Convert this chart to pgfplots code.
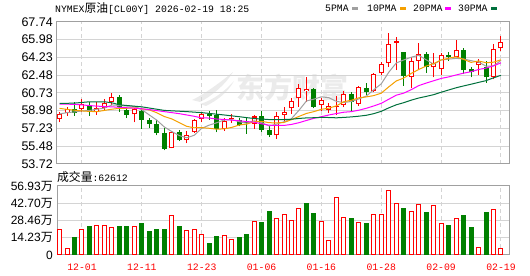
\documentclass[border=0pt]{standalone}
\usepackage{pgfplots}
\pgfplotsset{compat=1.18}
\usepackage{pgfplotstable}
\usepackage{fontspec}
\setmainfont{Liberation Sans}
\newfontfamily\cjk{Noto Sans CJK SC}
\newfontfamily\mono{Liberation Mono}
\definecolor{cRed}{HTML}{FF0000}
\definecolor{cGreen}{HTML}{008000}
\definecolor{ma5}{HTML}{A0A0A0}
\definecolor{ma10}{HTML}{F5A000}
\definecolor{ma20}{HTML}{FF00FF}
\definecolor{ma30}{HTML}{00703C}
\definecolor{gridc}{HTML}{D4D4D4}
\definecolor{framec}{HTML}{A0A0A0}

\pgfplotstableread{
i O H L C
0 58.20 58.88 57.81 58.62
1 58.79 59.37 58.46 59.14
3 59.14 60.11 58.88 59.60
5 58.88 59.86 58.56 59.27
6 59.27 60.11 58.95 59.69
7 59.79 60.67 59.53 60.28
10 58.62 59.21 57.81 59.11
15 55.29 57.00 55.25 56.84
17 56.06 56.94 55.74 56.61
18 56.84 58.14 56.78 58.01
19 58.14 58.88 57.81 58.62
22 57.20 58.23 57.00 57.98
23 58.14 58.62 57.75 58.23
26 57.68 58.56 57.20 58.40
29 56.55 58.88 56.19 58.46
30 58.56 59.37 57.91 58.88
31 59.21 60.24 58.66 59.95
32 60.18 61.64 59.37 61.22
33 60.92 62.29 59.86 61.15
35 59.53 60.24 58.95 60.02
36 59.05 59.76 58.72 59.48
37 59.30 60.42 58.55 59.43
38 59.53 60.91 59.30 60.62
40 59.63 61.40 59.47 61.27
42 60.95 62.72 60.85 62.59
43 62.65 63.80 62.49 63.54
44 63.64 66.59 63.30 65.54
45 65.67 66.20 62.98 65.81
47 62.32 64.29 61.18 63.90
48 63.90 65.67 62.98 64.53
50 63.24 64.62 62.26 63.64
51 63.05 64.69 62.49 64.46
53 64.30 65.94 64.23 64.95
56 63.47 64.03 62.49 63.80
58 62.26 65.54 62.06 65.02
59 65.12 66.33 64.89 65.77
}\upc

\pgfplotstableread{
i O H L C
2 59.14 59.79 58.46 58.72
4 59.53 59.79 58.49 58.88
8 60.31 60.50 58.88 59.34
9 59.01 59.21 58.23 58.56
11 58.98 59.27 57.20 58.07
12 58.07 58.30 57.26 57.68
13 57.65 58.07 56.55 56.78
14 56.78 57.26 55.06 55.22
16 56.87 57.10 55.97 56.06
20 58.69 58.98 58.07 58.46
21 58.56 59.01 56.84 57.20
24 58.01 58.23 57.42 57.59
25 57.98 58.30 56.68 57.72
27 58.46 58.98 56.87 57.10
28 57.10 57.42 56.36 56.55
34 61.15 61.22 59.21 59.37
39 60.62 60.85 58.97 59.86
41 61.24 61.73 60.52 60.85
46 64.75 64.80 61.41 62.39
49 64.56 64.79 62.72 63.31
52 64.46 64.79 63.90 64.30
54 64.95 65.12 62.59 62.98
55 63.05 63.24 62.26 62.82
57 63.31 63.90 61.73 62.26
}\dnc

\pgfplotsset{
  cbar/.style 2 args={forget plot, draw=none, mark=none,
    error bars/.cd, y dir=plus, y explicit, error mark=none,
    error bar style={draw=#1, line width=#2, line cap=butt, solid}},
}

\begin{document}
\begin{tikzpicture}
\path[use as bounding box] (0,0) rectangle (530bp,276bp);
% watermark
\fill[black!8] (192bp,176bp) .. controls (205bp,182bp) and (222bp,195bp) .. (233bp,204bp)
  .. controls (226bp,192bp) and (212bp,180bp) .. (200bp,174bp) -- cycle;
\fill[black!8] (200bp,172bp) .. controls (214bp,176bp) and (226bp,186bp) .. (234bp,195bp)
  .. controls (228bp,184bp) and (218bp,176bp) .. (206bp,170bp) -- cycle;
\node[text=black!8, font=\cjk\bfseries\fontsize{28bp}{30bp}\selectfont, inner sep=0pt] at (292bp,188bp) {东方财富};

\begin{axis}[
  at={(57bp,112bp)}, anchor=south west,
  width=452bp, height=142.3bp, scale only axis,
  xmin=-0.34, xmax=60.07, ymin=53.72, ymax=67.74,
  enlargelimits=false, clip=true,
  xtick={3,11,19,27,35,43,51,59}, xticklabels={},
  ytick={53.72,55.48,57.23,58.98,60.73,62.48,64.23,65.98,67.74},
  yticklabels={53.72,55.48,57.23,58.98,60.73,62.48,64.23,65.98,67.74},
  yticklabel style={font=\fontsize{12.5bp}{14bp}\selectfont, inner sep=0pt, xshift=-4bp},
  xmajorgrids, ymajorgrids,
  major x grid style={draw=gridc, dash pattern=on 4bp off 3bp, line width=1bp},
  major y grid style={draw=gridc, line width=1bp},
  axis line style={draw=framec, line width=1bp},
  major tick length=0pt,
]
% wicks
\addplot[cbar={cRed}{1bp}] table[x=i, y=L, y error plus expr={\thisrow{H}-\thisrow{L}}] {\upc};
\addplot[cbar={cGreen}{1bp}] table[x=i, y=L, y error plus expr={\thisrow{H}-\thisrow{L}}] {\dnc};
% bodies
\addplot[cbar={cRed}{5bp}] table[x=i, y=O, y error plus expr={max(\thisrow{C}-\thisrow{O},0.1)}] {\upc};
\addplot[cbar={white}{3bp}] table[x=i, y expr={\thisrow{O}+0.1}, y error plus expr={max(\thisrow{C}-\thisrow{O}-0.2,0)}] {\upc};
\addplot[cbar={cGreen}{5bp}] table[x=i, y=C, y error plus expr={max(\thisrow{O}-\thisrow{C},0.1)}] {\dnc};
% moving averages
\addplot[ma5, line width=1bp] coordinates {(0,58.65)(1,58.78)(2,58.85)(3,58.95)(4,58.99)(5,59.12)(6,59.23)(7,59.54)(8,59.49)(9,59.43)(10,59.40)(11,59.07)(12,58.55)(13,58.04)(14,57.37)(15,56.92)(16,56.52)(17,56.30)(18,56.55)(19,57.23)(20,57.55)(21,57.78)(22,58.05)(23,58.10)(24,57.89)(25,57.74)(26,57.98)(27,57.81)(28,57.47)(29,57.65)(30,57.88)(31,58.19)(32,59.01)(33,59.93)(34,60.11)(35,60.34)(36,60.25)(37,59.89)(38,59.78)(39,59.88)(40,60.13)(41,60.41)(42,61.04)(43,61.62)(44,62.76)(45,63.67)(46,63.97)(47,64.24)(48,64.43)(49,63.99)(50,63.55)(51,63.97)(52,64.05)(53,64.13)(54,64.07)(55,63.90)(56,63.77)(57,63.36)(58,63.38)(59,63.93)};
\addplot[ma10, line width=1bp] coordinates {(0,59.2)(1,59.1)(2,59.02)(3,58.95)(4,58.9)(5,58.88)(6,59.0)(7,59.12)(8,59.2)(9,59.21)(10,59.26)(11,59.15)(12,59.05)(13,58.77)(14,58.40)(15,58.16)(16,57.79)(17,57.43)(18,57.29)(19,57.30)(20,57.24)(21,57.15)(22,57.18)(23,57.32)(24,57.56)(25,57.65)(26,57.88)(27,57.93)(28,57.79)(29,57.77)(30,57.81)(31,58.09)(32,58.41)(33,58.70)(34,58.88)(35,59.11)(36,59.22)(37,59.45)(38,59.86)(39,60.00)(40,60.24)(41,60.33)(42,60.46)(43,60.70)(44,61.32)(45,61.90)(46,62.19)(47,62.64)(48,63.03)(49,63.37)(50,63.61)(51,63.97)(52,64.14)(53,64.28)(54,64.03)(55,63.73)(56,63.87)(57,63.70)(58,63.75)(59,63.99)};
\addplot[ma20, line width=1bp] coordinates {(0,59.62)(2,59.6)(5,59.42)(7,59.35)(10,59.22)(11,59.16)(12,59.08)(14,58.88)(16,58.68)(18,58.42)(19,58.26)(20,58.25)(21,58.15)(22,58.11)(23,58.04)(24,57.98)(25,57.90)(26,57.84)(27,57.68)(28,57.54)(29,57.53)(30,57.52)(31,57.62)(32,57.79)(33,58.01)(34,58.22)(35,58.38)(36,58.55)(37,58.69)(38,58.82)(39,58.88)(40,59.02)(41,59.21)(42,59.44)(43,59.70)(44,60.10)(45,60.50)(46,60.70)(47,61.04)(48,61.44)(49,61.69)(50,61.92)(51,62.15)(52,62.30)(53,62.49)(54,62.67)(55,62.81)(56,63.03)(57,63.17)(58,63.39)(59,63.69)};
\addplot[ma30, line width=1bp] coordinates {(0,59.68)(2,59.72)(4,59.85)(6,59.85)(7,59.75)(8,59.55)(11,59.35)(14,59.0)(17,58.88)(19,58.78)(22,58.55)(24,58.38)(26,58.2)(28,58.1)(29,58.09)(30,58.10)(31,58.13)(32,58.21)(33,58.26)(34,58.28)(35,58.31)(36,58.30)(37,58.27)(38,58.31)(39,58.36)(40,58.43)(41,58.52)(42,58.68)(43,58.91)(44,59.25)(45,59.55)(46,59.76)(47,60.01)(48,60.22)(49,60.38)(50,60.55)(51,60.79)(52,61.01)(53,61.23)(54,61.41)(55,61.58)(56,61.76)(57,61.93)(58,62.21)(59,62.46)};
\end{axis}

\begin{axis}[
  at={(57bp,21bp)}, anchor=south west,
  width=452bp, height=69bp, scale only axis,
  xmin=-0.34, xmax=60.07, ymin=0, ymax=56.93,
  enlargelimits=false,
  ybar, bar width=4bp,
  xtick={3,11,19,27,35,43,51,59},
  xticklabels={12-01,12-11,12-23,01-06,01-16,01-28,02-09,02-19},
  xticklabel style={font=\mono\fontsize{9.8bp}{11bp}\selectfont, text=cRed, inner sep=0pt, anchor=center, yshift=-12bp},
  ytick={0,14.23,28.46,42.70,56.93},
  yticklabels={0,{14.23{\cjk 万}},{28.46{\cjk 万}},{42.70{\cjk 万}},{56.93{\cjk 万}}},
  yticklabel style={font=\fontsize{12bp}{14bp}\selectfont, inner sep=0pt, xshift=-4bp},
  xmajorgrids, ymajorgrids,
  major x grid style={draw=gridc, dash pattern=on 4bp off 3bp, line width=1bp},
  major y grid style={draw=gridc, line width=1bp},
  axis line style={draw=framec, line width=1bp},
  major tick length=0pt,
]
\addplot[bar shift=0pt, draw=cRed, fill=white, line width=1bp] coordinates {(0,20.8)(1,5.6)(3,20.8)(5,24.1)(6,24.1)(7,22.5)(10,23.4)(15,32.7)(17,19.9)(18,20.8)(19,16.7)(22,15.7)(23,12.4)(26,27.6)(29,30.0)(30,33.7)(31,28.3)(32,38.5)(35,27.5)(36,11.6)(37,47.7)(38,30.9)(40,26.9)(42,33.7)(43,33.7)(44,53.6)(45,42.7)(47,36.2)(48,41.8)(50,41.0)(51,26.1)(53,30.0)(56,6.5)(58,37.6)(59,5.6)};
\addplot[bar shift=0pt, draw=cGreen, fill=cGreen, line width=1bp] coordinates {(2,14.2)(4,23.6)(8,23.6)(9,23.6)(11,26.1)(12,19.4)(13,21.1)(14,21.1)(16,23.6)(20,9.3)(21,15.2)(24,14.3)(25,16.8)(27,26.9)(28,36.2)(33,42.1)(34,34.5)(39,30.0)(41,26.1)(46,38.5)(49,35.4)(52,24.4)(54,32.8)(55,22.7)(57,35.4)};
\end{axis}

% title
\node[anchor=west, inner sep=0pt] at (55bp,267.7bp)
  {\mono\fontsize{9.8bp}{11bp}\selectfont NYMEX{\cjk\fontsize{11.8bp}{12bp}\selectfont 原油}[CL00Y] 2026-02-19 18:25};
% legend
\begin{scope}[every node/.style={anchor=west, inner sep=0pt, font=\mono\fontsize{9.8bp}{11bp}\selectfont}]
\node at (325bp,267.5bp) {5PMA};
\draw[ma5, line width=3bp] (352bp,267.5bp) -- (358bp,267.5bp);
\node at (367bp,267.5bp) {10PMA};
\draw[ma10, line width=3bp] (400bp,267.5bp) -- (406bp,267.5bp);
\node at (413bp,267.5bp) {20PMA};
\draw[ma20, line width=3bp] (445bp,267.5bp) -- (451bp,267.5bp);
\node at (458bp,267.5bp) {30PMA};
\draw[ma30, line width=3bp] (491bp,267.5bp) -- (497bp,267.5bp);
\end{scope}
% volume header
\node[anchor=west, inner sep=0pt] at (57bp,99bp)
  {{\cjk\fontsize{11.8bp}{12bp}\selectfont 成交量}{\mono\fontsize{9.8bp}{11bp}\selectfont :62612}};
\end{tikzpicture}
\end{document}
